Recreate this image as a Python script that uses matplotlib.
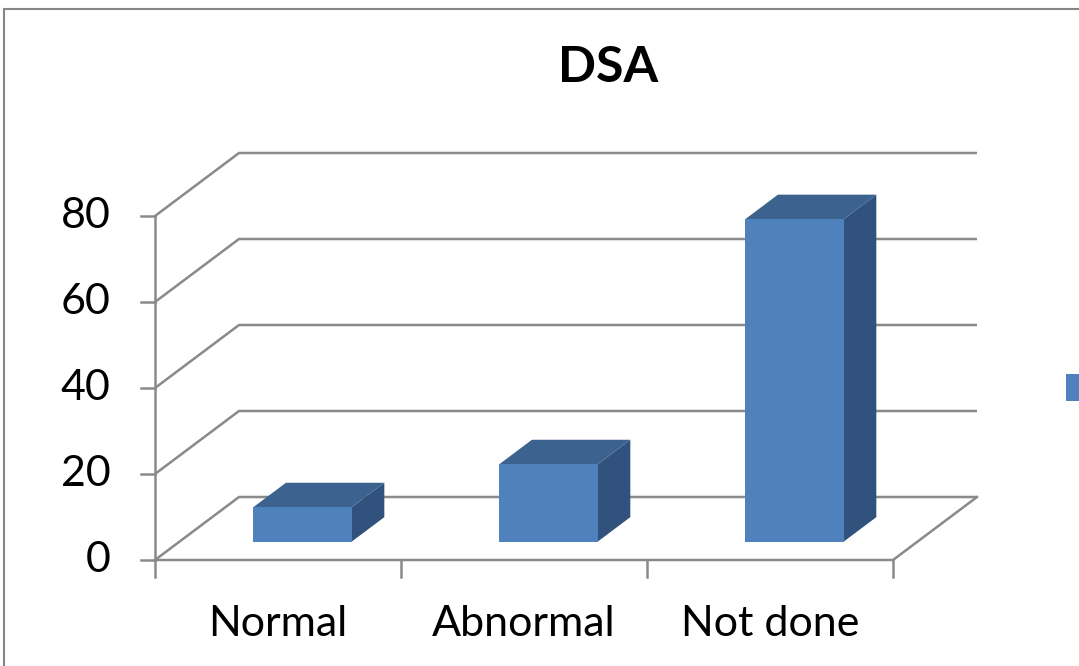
import matplotlib
matplotlib.use("Agg")
import matplotlib.pyplot as plt
from matplotlib.patches import Polygon, Rectangle

plt.rcParams['font.family'] = ['Lato', 'DejaVu Sans']

# data
categories = ['Normal', 'Abnormal', 'Not done']
values = [8, 18, 75]
y_ticks = [0, 20, 40, 60, 80]
title = 'DSA'

# colours (Office 2007 style)
c_front = '#4F81BD'
c_top = '#3C628F'
c_side = '#31527C'
c_grid = '#8A8A8A'

W, H = 1079, 666
fig = plt.figure(figsize=(W / 100, H / 100), dpi=100)
ax = fig.add_axes([0, 0, 1, 1])

# pixel layout of the plot box -> data limits
px_per_cat = 246.0
px_per_unit = 4.3
x0_px, y0_px = 155.0, 560.0      # where (-0.5, 0) lands
ax.set_xlim(-0.5 - x0_px / px_per_cat, -0.5 + (W - x0_px) / px_per_cat)
ax.set_ylim(-(H - y0_px) / px_per_unit, y0_px / px_per_unit)
ax.axis('off')

# oblique depth vector in data units
DX = 84 / px_per_cat
DY = 63 / px_per_unit
n = len(categories)
xl, xr = -0.5, n - 0.5
ymax = y_ticks[-1]


def shift(x, y, f):
    return (x + f * DX, y + f * DY)


lw = 1.8
# walls: gridlines on back wall + side wall diagonals
for t in y_ticks:
    ax.plot([xl, xl + DX, xr + DX], [t, t + DY, t + DY], color=c_grid, lw=lw,
            solid_capstyle='butt', zorder=1)
# front value axis
ax.plot([xl, xl], [0, ymax], color=c_grid, lw=lw, zorder=1)
for t in y_ticks:
    ax.plot([xl - 0.058, xl], [t, t], color=c_grid, lw=lw, zorder=1)
    ax.text(xl - 0.18, t, str(t), ha='right', va='center', fontsize=31,
            color='black')

# floor: front edge, right edge
ax.plot([xl, xr, xr + DX], [0, 0, DY], color=c_grid, lw=lw, zorder=1)
for k in range(n + 1):
    ax.plot([xl + k, xl + k], [0, -4], color=c_grid, lw=lw, zorder=1)

for i, lab in enumerate(categories):
    ax.text(i, -14.8, lab, ha='center', va='center', fontsize=31, color='black')

# 3-D bars
bw = 0.40
f0, f1 = 0.29, 0.68
for i, v in enumerate(values):
    a, b = i - bw / 2, i + bw / 2
    front = [shift(a, 0, f0), shift(b, 0, f0), shift(b, v, f0), shift(a, v, f0)]
    top = [shift(a, v, f0), shift(b, v, f0), shift(b, v, f1), shift(a, v, f1)]
    side = [shift(b, 0, f0), shift(b, 0, f1), shift(b, v, f1), shift(b, v, f0)]
    ax.add_patch(Polygon(side, closed=True, facecolor=c_side, edgecolor='none', zorder=3))
    ax.add_patch(Polygon(top, closed=True, facecolor=c_top, edgecolor='none', zorder=3))
    ax.add_patch(Polygon(front, closed=True, facecolor=c_front, edgecolor='none', zorder=4))

# title
fig.text(608 / W, 1 - 68 / H, title, ha='center', va='center', fontsize=36,
         fontweight='bold', color='black')

# legend key (text runs off the right edge)
fig.patches.append(Rectangle((1066 / W, 1 - 401 / H), 20 / W, 27 / H,
                             transform=fig.transFigure, facecolor=c_front,
                             edgecolor='none'))

# chart area border
fig.patches.append(Rectangle((4 / W, -0.05), 1.1, 1 - 9 / H + 0.05,
                             transform=fig.transFigure, facecolor='none',
                             edgecolor='#868686', lw=1.5))

fig.savefig('out.png', dpi=100)
